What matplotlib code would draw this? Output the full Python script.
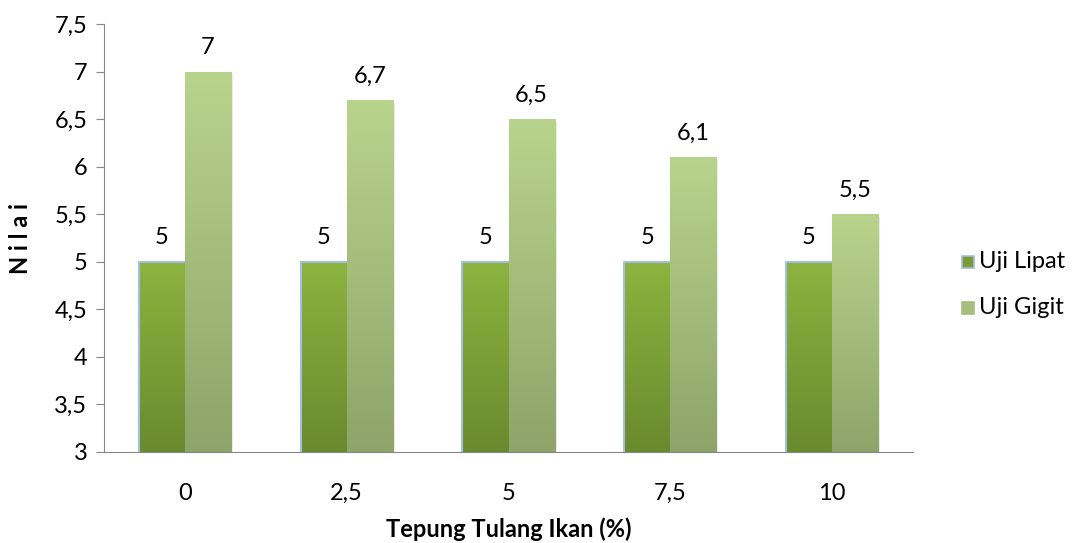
import numpy as np
import matplotlib.pyplot as plt
from matplotlib.colors import LinearSegmentedColormap
from matplotlib.patches import Rectangle

categories = ['0', '2,5', '5', '7,5', '10']
uji_lipat = [5, 5, 5, 5, 5]
uji_gigit = [7, 6.7, 6.5, 6.1, 5.5]
series_names = ['Uji Lipat', 'Uji Gigit']
yticks = [3, 3.5, 4, 4.5, 5, 5.5, 6, 6.5, 7, 7.5]

plt.rcParams['font.family'] = ['Lato', 'DejaVu Sans']
fs = 17

fig = plt.figure(figsize=(10.72, 5.43), dpi=100)
ax = fig.add_axes([104 / 1072, 1 - 452 / 543, (913 - 104) / 1072, (452 - 24) / 543])

x = np.arange(len(categories))
w = 0.285
ymin, ymax = 3, 7.5

cmap_lipat = LinearSegmentedColormap.from_list('lipat', ['#6a8a2e', '#8db33f'])
cmap_gigit = LinearSegmentedColormap.from_list('gigit', ['#8ea46a', '#b8d48c'])


def grad_bars(xs, vals, cmap, edge=None):
    bars = ax.bar(xs, [v - ymin for v in vals], w, bottom=ymin, color='none',
                  edgecolor='none', zorder=2)
    grad = np.linspace(0, 1, 256).reshape(-1, 1)
    for b in bars:
        x0, y0 = b.get_x(), b.get_y()
        bw, bh = b.get_width(), b.get_height()
        # soft shadow
        ax.add_patch(Rectangle((x0 + 0.012, y0 - 0.03), bw, bh, color='#000000',
                               alpha=0.08, lw=0, zorder=1.5))
        im = ax.imshow(grad, cmap=cmap, origin='lower', aspect='auto',
                       extent=[x0, x0 + bw, y0, y0 + bh], zorder=2)
        im.set_clip_path(b)
        if edge:
            ax.plot([x0, x0, x0 + bw], [y0, y0 + bh, y0 + bh], color=edge, lw=1.5,
                    zorder=3, solid_capstyle='butt')
    return bars


grad_bars(x - w / 2, uji_lipat, cmap_lipat, edge='#a4bde0')
grad_bars(x + w / 2, uji_gigit, cmap_gigit)

for xi, v in zip(x - w / 2, uji_lipat):
    ax.text(xi, v + 0.14, f'{v:g}'.replace('.', ','), ha='center', va='bottom', fontsize=fs)
for xi, v in zip(x + w / 2, uji_gigit):
    ax.text(xi, v + 0.14, f'{v:g}'.replace('.', ','), ha='center', va='bottom', fontsize=fs)

ax.set_xlim(-0.5, len(categories) - 0.5)
ax.set_ylim(ymin, ymax)
ax.set_xticks(x)
ax.set_xticklabels(categories, fontsize=fs)
ax.set_yticks(yticks)
ax.set_yticklabels([f'{t:g}'.replace('.', ',') for t in yticks], fontsize=fs)
ax.tick_params(axis='x', length=0, pad=22)
ax.tick_params(axis='y', length=6, color='#868686', pad=6)
for s in ['top', 'right']:
    ax.spines[s].set_visible(False)
for s in ['left', 'bottom']:
    ax.spines[s].set_color('#868686')
ax.set_xlabel('Tepung Tulang Ikan (%)', fontsize=fs, fontweight='bold', labelpad=10)
fig.text(20 / 1072, 1 - 238 / 543, 'N i l a i', rotation=90, fontsize=fs,
         fontweight='bold', ha='center', va='center')

# legend
legend_y = [262, 308]
legend_c = [('#7a9c35', '#a4bde0'), ('#a6bf7c', None)]
for name, yy, (fc, ec) in zip(series_names, legend_y, legend_c):
    fig.patches.append(Rectangle((962 / 1072, 1 - (yy + 6) / 543), 12 / 1072, 12 / 543,
                                 transform=fig.transFigure, facecolor=fc,
                                 edgecolor=ec if ec else fc, lw=1.2))
    fig.text(979 / 1072, 1 - yy / 543, name, fontsize=fs, va='center', ha='left')

fig.savefig('out.png', dpi=100)
